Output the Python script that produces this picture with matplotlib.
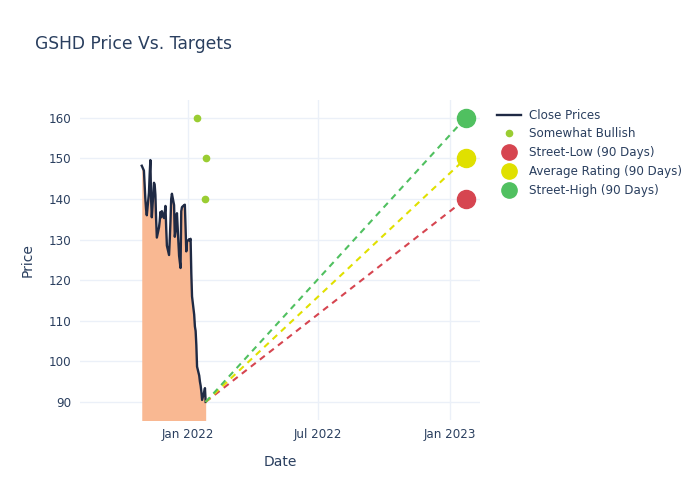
import matplotlib
matplotlib.use("Agg")
import matplotlib.pyplot as plt
import pandas as pd

# ---- data ----
price_dates = pd.bdate_range("2021-10-29", "2022-01-26")
close_prices = [
    148.2,
    147.0, 143.5, 140.0, 137.5, 136.0, 141.5, 146.0, 149.6, 140.0, 135.5,
    144.0, 143.5, 141.0, 135.0, 130.5, 133.0, 134.5, 136.8, 135.5, 137.0,
    135.3, 136.5,
    138.3, 133.0, 128.5, 126.2, 130.0, 134.5, 140.0, 141.3, 138.5, 130.7,
    132.0, 135.0, 136.5, 126.0, 124.5, 123.0, 137.0, 138.0, 138.5, 138.6,
    133.0, 127.1, 129.5,
    130.1, 129.8, 130.2, 121.7, 116.0, 111.5, 108.6, 107.5, 104.0, 98.7,
    96.5, 95.0, 94.0, 92.5, 90.5, 92.5, 93.4, 90.0,
]

rating_dates = pd.to_datetime(["2022-01-14", "2022-01-26", "2022-01-25"])
rating_targets = [160, 150, 140]

target_start_date = pd.Timestamp("2022-01-26")
target_end_date = pd.Timestamp("2023-01-23")
target_start_price = 90.0
target_names = ["Street-Low (90 Days)", "Average Rating (90 Days)", "Street-High (90 Days)"]
target_values = [140, 150, 160]
target_colors = ["#D64550", "#E0E000", "#50C060"]

title = "GSHD Price Vs. Targets"
y_ticks = [90, 100, 110, 120, 130, 140, 150, 160]
x_ticks = pd.to_datetime(["2022-01-01", "2022-07-01", "2023-01-01"])
x_tick_labels = ["Jan 2022", "Jul 2022", "Jan 2023"]

# ---- style ----
text_color = "#2a3f5f"
grid_color = "#EBF0F8"
plt.rcParams["font.family"] = ["DejaVu Sans"]

fig = plt.figure(figsize=(7, 5), dpi=100)
ax = fig.add_axes([80 / 700, 1 - 420 / 500, 400 / 700, 320 / 500])

y_bottom, y_top = 85.55, 164.4
ax.set_ylim(y_bottom, y_top)
ax.set_xlim(pd.Timestamp("2021-08-04"), pd.Timestamp("2023-02-12"))

# fill and close line
ax.fill_between(price_dates, close_prices, y_bottom - 5, color="#F9B892", linewidth=0, zorder=2)
line_close, = ax.plot(price_dates, close_prices, color="#1f2a44", linewidth=1.7, zorder=3,
                      label="Close Prices")

# analyst ratings
pts, = ax.plot(rating_dates, rating_targets, linestyle="none", marker="o", markersize=4.5,
               color="#9ACD32", zorder=4, label="Somewhat Bullish")

# target lines
handles = [line_close, pts]
for name, val, col in zip(target_names, target_values, target_colors):
    ax.plot([target_start_date, target_end_date], [target_start_price, val], color=col,
            linewidth=1.5, dashes=(3, 2.5), zorder=3)
    h, = ax.plot([target_end_date], [val], linestyle="none", marker="o", markersize=13,
                 color=col, zorder=5, label=name)
    handles.append(h)

ax.set_yticks(y_ticks)
ax.set_xticks(x_ticks)
ax.set_xticklabels(x_tick_labels)
ax.grid(True, color=grid_color, linewidth=1)
ax.set_axisbelow(True)
for s in ax.spines.values():
    s.set_visible(False)
ax.tick_params(axis="both", length=0, colors=text_color, labelsize=8.6, pad=6)
ax.set_xlabel("Date", color=text_color, fontsize=10, labelpad=10)
ax.set_ylabel("Price", color=text_color, fontsize=10, labelpad=10)

fig.text(35 / 700, 1 - 44 / 500, title, color=text_color, fontsize=12.3, va="center", ha="left")

leg = fig.legend(handles=handles, loc="upper left", bbox_to_anchor=(486 / 700, 1 - 98 / 500),
                 frameon=False, fontsize=8.6, labelcolor=text_color, handlelength=2.0,
                 handletextpad=0.7, labelspacing=0.48, markerscale=1.0)
for h in leg.legend_handles[2:]:
    h.set_markersize(11)

fig.savefig("out.png", dpi=100)
